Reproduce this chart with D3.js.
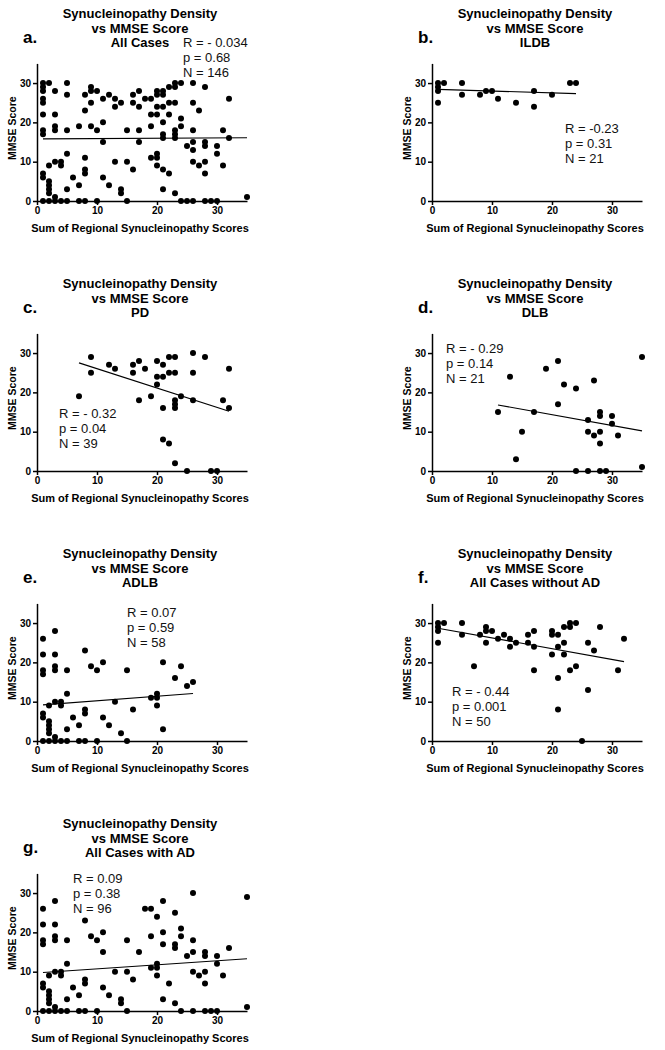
<!DOCTYPE html>
<html><head><meta charset="utf-8">
<script src="https://cdn.jsdelivr.net/npm/d3@7"></script>
<style>body{margin:0;background:#fff}svg{display:block}</style>
</head><body>
<script>
// ---------- DATA ----------
const panelIds = ["a.","b.","c.","d.","e.","f.","g."];
const titleLine1 = "Synucleinopathy Density";
const titleLine2 = "vs MMSE Score";
const subtitles = ["All Cases","ILDB","PD","DLB","ADLB","All Cases without AD","All Cases with AD"];
const statR = ["R = - 0.034","R = -0.23","R = - 0.32","R = - 0.29","R = 0.07","R = - 0.44","R = 0.09"];
const statP = ["p = 0.68","p = 0.31","p = 0.04","p = 0.14","p = 0.59","p = 0.001","p = 0.38"];
const statN = ["N = 146","N = 21","N = 39","N = 21","N = 58","N = 50","N = 96"];
const xTicks = [0,10,20,30];
const yTicks = [0,10,20,30];
const xLabel = "Sum of Regional Synucleinopathy Scores";
const yLabel = "MMSE Score";

const ptsA = [[1,30],[1,29],[1,28],[1,26],[1,25],[1,22],[1,18],[1,17],[1,7],[1,6],[1,0],
[2,30],[2,9],[2,5],[2,4],[2,3],[2,2],[2,0],
[3,28],[3,22],[3,19],[3,18],[3,10],[3,1],[3,0],
[4,10],[4,9],[4,0],
[5,30],[5,27],[5,18],[5,12],[5,3],[5,0],
[6,6],[7,19],[7,4],[7,0],
[8,27],[8,23],[8,11],[8,8],[8,7],[8,0],
[9,29],[9,28],[9,25],[9,19],
[10,28],[10,18],[10,0],
[11,26],[11,20],[11,15],[11,6],
[12,27],[12,4],
[13,26],[13,24],[13,10],
[14,25],[14,3],[14,2],
[15,18],[15,10],[15,0],
[16,27],[16,25],[16,8],
[17,28],[17,24],[17,18],[17,15],
[18,26],
[19,26],[19,22],[19,19],[19,11],
[20,28],[20,27],[20,24],[20,22],[20,12],[20,11],[20,9],
[21,28],[21,27],[21,24],[21,20],[21,17],[21,16],[21,8],[21,3],
[22,29],[22,25],[22,22],[22,7],
[23,30],[23,29],[23,25],[23,18],[23,17],[23,16],[23,2],
[24,30],[24,21],[24,19],[24,0],
[25,14],[25,0],
[26,30],[26,25],[26,18],[26,15],[26,13],[26,10],[26,0],
[27,23],[27,9],
[28,29],[28,15],[28,14],[28,10],[28,7],[28,0],
[29,0],[30,14],[30,12],[30,0],
[31,18],[31,9],[32,26],[32,16],[35,1]];

const ptsB = [[1,30],[1,29],[1,28],[1,25],[2,30],[5,30],[5,27],[8,27],[9,28],[10,28],[11,26],
[14,25],[17,28],[17,24],[20,27],[23,30],[24,30]];

const ptsC = [[7,19],[9,29],[9,25],[12,27],[13,26],[16,27],[16,25],[17,28],[17,18],[18,26],[19,19],
[20,28],[20,24],[20,22],[21,27],[21,24],[21,16],[21,8],[22,29],[22,25],[22,7],
[23,29],[23,25],[23,18],[23,17],[23,16],[23,2],[24,19],[25,0],[26,30],[26,25],[26,18],
[28,29],[29,0],[30,0],[31,18],[32,26],[32,16]];

const ptsD = [[11,15],[13,24],[14,3],[15,10],[17,15],[19,26],[21,28],[21,17],[22,22],[24,21],[24,0],
[26,13],[26,10],[26,0],[27,23],[27,9],[28,15],[28,14],[28,10],[28,7],[28,0],[29,0],
[30,14],[30,12],[31,9],[35,29],[35,1]];

const ptsE = [[1,26],[1,22],[1,18],[1,17],[1,7],[1,6],[1,0],
[2,9],[2,5],[2,4],[2,3],[2,2],[2,0],
[3,28],[3,22],[3,19],[3,18],[3,10],[3,1],[3,0],
[4,10],[4,9],[4,0],[5,18],[5,12],[5,3],[5,0],[6,6],[7,4],[7,0],
[8,23],[8,8],[8,7],[8,0],[9,19],[10,18],[10,0],[11,20],[11,6],[12,4],[13,10],[14,2],
[15,18],[15,0],[16,8],[19,11],[20,12],[20,11],[20,9],[21,20],[21,3],[23,16],[24,19],[25,14],[26,15]];

const ptsF = [[1,30],[1,29],[1,28],[1,25],[2,30],[5,30],[5,27],[7,19],[8,27],[9,29],[9,28],[9,25],
[10,28],[11,26],[12,27],[13,26],[13,24],[14,25],[16,27],[16,25],[17,28],[17,24],[17,18],
[20,28],[20,27],[20,22],[21,27],[21,24],[21,16],[21,8],[22,29],[22,25],[22,22],
[23,30],[23,29],[23,18],[24,30],[24,19],[25,0],[26,25],[26,13],[27,23],[28,29],[31,18],[32,26]];

const ptsG = [[1,26],[1,22],[1,18],[1,17],[1,7],[1,6],[1,0],
[2,9],[2,5],[2,4],[2,3],[2,2],[2,0],
[3,28],[3,22],[3,19],[3,18],[3,10],[3,1],[3,0],
[4,10],[4,9],[4,0],[5,18],[5,12],[5,3],[5,0],[6,6],[7,4],[7,0],
[8,23],[8,8],[8,7],[8,0],[9,19],[10,18],[10,0],[11,20],[11,15],[11,6],[12,4],[13,10],
[14,3],[14,2],[15,18],[15,10],[15,0],[16,8],[17,15],[18,26],[19,26],[19,19],[19,11],
[20,24],[20,12],[20,11],[20,9],[21,28],[21,20],[21,17],[21,3],[22,7],
[23,25],[23,17],[23,16],[23,2],[24,21],[24,19],[24,0],[25,14],
[26,30],[26,18],[26,15],[26,10],[26,0],[27,9],[28,15],[28,14],[28,10],[28,7],[28,0],
[29,0],[30,14],[30,12],[30,0],[31,9],[32,16],[35,29],[35,1]];

const fitA = [[1,15.8],[35,16.1]];
const fitB = [[1,28.4],[24,27.3]];
const fitC = [[7,27.5],[32,15.2]];
const fitD = [[11,16.8],[35,10.2]];
const fitE = [[1,9.2],[26,12.1]];
const fitF = [[1,28.7],[32,20.2]];
const fitG = [[1,9.8],[35,13.3]];

const allPts = [ptsA, ptsB, ptsC, ptsD, ptsE, ptsF, ptsG];
const allFits = [fitA, fitB, fitC, fitD, fitE, fitF, fitG];

// ---------- LAYOUT ----------
const W = 665, H = 1050;
const plotW = 210, plotH = 137.6;
const colLeft = [37, 432];
const rowBottom = [201, 471, 741, 1011];
// stat text offsets (relative to plot top-left): [x, baseline of first line]
const statPos = [[146,-16],[133,70],[22,85],[14,20],[90,14],[20,93],[36,10]];

const font = "'Liberation Sans', Arial, Helvetica, sans-serif";
const svg = d3.select("body").append("svg").attr("width", W).attr("height", H)
  .style("font-family", font);

const x = d3.scaleLinear().domain([0,35]).range([0, plotW]);
const y = d3.scaleLinear().domain([0,35]).range([plotH, 0]);

allPts.forEach((pts, i) => {
  const col = i % 2, row = Math.floor(i / 2);
  const left = colLeft[col], top = rowBottom[row] - plotH;
  const g = svg.append("g").attr("transform", `translate(${left},${top})`);
  const cx = plotW / 2 - 2;

  // titles
  const tb = -plotH - 183 + plotH; // baseline of first title line relative to top
  [titleLine1, titleLine2, subtitles[i]].forEach((t, k) => {
    g.append("text").attr("x", cx).attr("y", plotH - 183 + k * 14.5)
      .attr("text-anchor", "middle").attr("font-weight", "bold").attr("font-size", 13)
      .text(t);
  });
  g.append("text").attr("x", -14).attr("y", plotH - 158)
    .attr("font-weight", "bold").attr("font-size", 17).text(panelIds[i]);

  // axes
  const xa = g.append("g").attr("transform", `translate(0,${plotH})`)
    .call(d3.axisBottom(x).tickValues(xTicks).tickSize(4).tickSizeOuter(0).tickPadding(2));
  const ya = g.append("g")
    .call(d3.axisLeft(y).tickValues(yTicks).tickSize(4).tickSizeOuter(0).tickPadding(2));
  [xa, ya].forEach(a => {
    a.select(".domain").attr("stroke", "#000").attr("stroke-width", 1.5);
    a.selectAll(".tick line").attr("stroke", "#000").attr("stroke-width", 1.5);
    a.selectAll(".tick text").attr("font-family", font).attr("font-size", 10)
      .attr("font-weight", "bold").attr("fill", "#000");
  });

  // axis labels
  g.append("text").attr("transform", `translate(-21,${plotH/2 - 4}) rotate(-90)`)
    .attr("text-anchor", "middle").attr("font-weight", "bold").attr("font-size", 10.5)
    .text(yLabel);
  g.append("text").attr("x", cx).attr("y", plotH + 31)
    .attr("text-anchor", "middle").attr("font-weight", "bold").attr("font-size", 11)
    .text(xLabel);

  // regression line
  const fit = allFits[i];
  g.append("path").attr("d", d3.line().x(d => x(d[0])).y(d => y(d[1]))(fit))
    .attr("stroke", "#000").attr("stroke-width", 1.1).attr("fill", "none");

  // points
  g.selectAll("circle").data(pts).join("circle")
    .attr("cx", d => x(d[0])).attr("cy", d => y(d[1])).attr("r", 3).attr("fill", "#000");

  // stats
  const sp = statPos[i];
  [statR[i], statP[i], statN[i]].forEach((t, k) => {
    g.append("text").attr("x", sp[0]).attr("y", sp[1] + k * 15)
      .attr("font-size", 13).attr("fill", "#111").text(t);
  });
});
</script>
</body></html>
